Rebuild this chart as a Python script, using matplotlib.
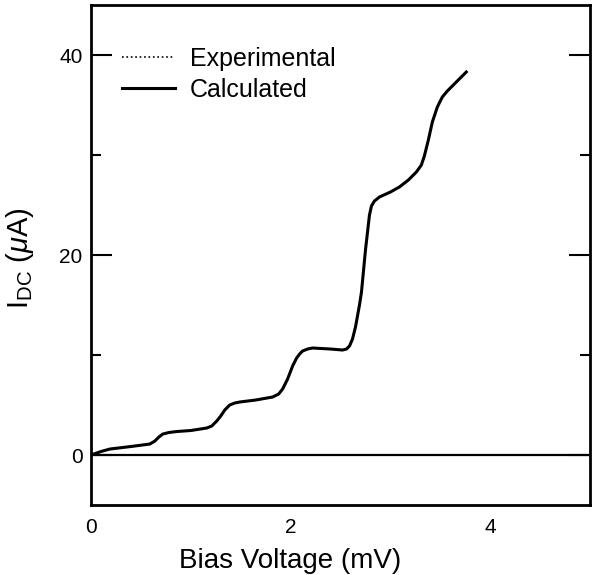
import numpy as np
import matplotlib.pyplot as plt

plt.rcParams['font.family'] = ['Liberation Sans', 'DejaVu Sans']
plt.rcParams['mathtext.fontset'] = 'custom'
plt.rcParams['mathtext.rm'] = 'Liberation Sans'
plt.rcParams['mathtext.it'] = 'Liberation Sans:italic'

# Calculated I-V curve (mV, uA)
bias_mv = [0.0, 0.10, 0.19, 0.40, 0.59, 0.64, 0.68, 0.72, 0.78, 0.86, 1.00, 1.16,
           1.21, 1.26, 1.30, 1.34, 1.39, 1.44, 1.49, 1.65, 1.82, 1.88, 1.92, 1.97,
           2.02, 2.06, 2.09, 2.12, 2.17, 2.22, 2.40, 2.52, 2.56, 2.59, 2.62, 2.65,
           2.67, 2.69, 2.71, 2.75, 2.79, 2.81, 2.84, 2.89, 3.00, 3.09, 3.18, 3.26,
           3.31, 3.34, 3.38, 3.42, 3.47, 3.52, 3.57, 3.62, 3.69, 3.76]
current_calc = [0.0, 0.35, 0.6, 0.85, 1.1, 1.4, 1.8, 2.1, 2.25, 2.35, 2.45, 2.7,
                2.9, 3.4, 3.9, 4.5, 5.0, 5.2, 5.3, 5.5, 5.8, 6.1, 6.6, 7.6,
                8.9, 9.7, 10.1, 10.4, 10.6, 10.7, 10.6, 10.5, 10.6, 10.9, 11.6, 12.8,
                13.9, 15.0, 16.3, 20.5, 24.0, 24.9, 25.4, 25.8, 26.3, 26.8, 27.5, 28.3,
                29.0, 29.9, 31.5, 33.3, 34.8, 35.8, 36.4, 36.9, 37.6, 38.3]
# experimental trace lies on top of the calculated one in the figure
current_exp = list(current_calc)

fig = plt.figure(figsize=(5.92, 5.75), dpi=100)
ax = fig.add_axes([0.1537, 0.1217, 0.843, 0.8696])

ax.plot(bias_mv, current_exp, ls=':', color='black', lw=1.2, label='Experimental')
ax.plot(bias_mv, current_calc, ls='-', color='black', lw=2.2, label='Calculated')
ax.axhline(0, color='black', lw=1.6)

ax.set_xlim(0, 5)
ax.set_ylim(-5, 45)
ax.set_xticks([0, 2, 4])
ax.set_yticks([0, 20, 40])
ax.set_yticks([10, 30], minor=True)
ax.tick_params(axis='x', length=0, labelsize=15, pad=9)
ax.tick_params(axis='y', which='major', direction='in', length=15, width=1.5,
               labelsize=15, right=True, pad=6)
ax.tick_params(axis='y', which='minor', direction='in', length=7, width=1.5,
               right=True)
for sp in ax.spines.values():
    sp.set_linewidth(2)

ax.set_xlabel('Bias Voltage (mV)', fontsize=20)
ax.xaxis.set_label_coords(0.40, -0.085)
ax.set_ylabel(r'I$_{\mathrm{DC}}$ ($\mathit{\mu}$A)', fontsize=21)
ax.yaxis.set_label_coords(-0.11, 0.494)

ax.legend(loc='upper left', bbox_to_anchor=(0.018, 0.962), frameon=False,
          fontsize=18, handlelength=2.1, handletextpad=0.6, labelspacing=0.3)

fig.savefig('out.png', dpi=100)
